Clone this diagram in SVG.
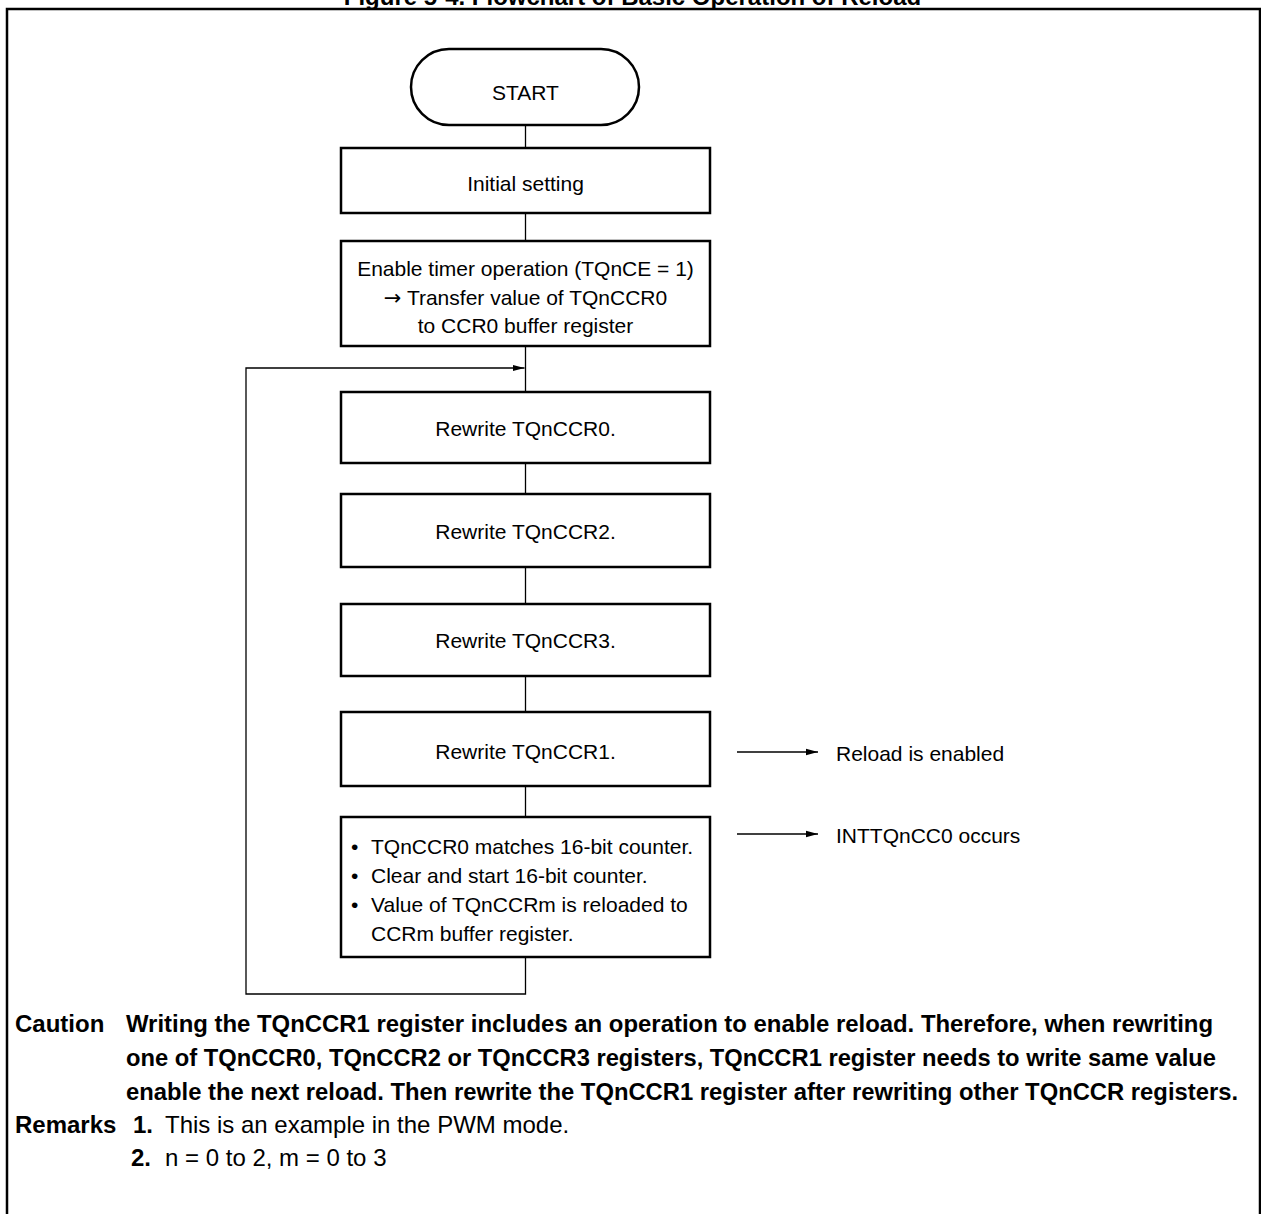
<svg xmlns="http://www.w3.org/2000/svg" width="1261" height="1214" viewBox="0 0 1261 1214">
<style>
  .box { fill: #fff; stroke: #000; stroke-width: 2.5; }
  .ln { fill: none; stroke: #000; stroke-width: 1.3; }
  .t { font-family: "Liberation Sans", Arial, sans-serif; font-size: 21px; fill: #000; }
  .c { text-anchor: middle; }
  .b { font-family: "Liberation Sans", Arial, sans-serif; font-size: 24px; font-weight: bold; fill: #000; }
  .r { font-family: "Liberation Sans", Arial, sans-serif; font-size: 24px; fill: #000; }
  .sym { font-family: "DejaVu Sans", sans-serif; }
</style>
<defs>
  <marker id="ah" markerWidth="12" markerHeight="8" refX="12" refY="4" orient="auto" markerUnits="userSpaceOnUse">
    <path d="M0,0.8 L12,4 L0,7.2 Z" fill="#000"/>
  </marker>
</defs>
<rect width="1261" height="1214" fill="#fff"/>
<text class="b c" x="632.5" y="5">Figure 5-4. Flowchart of Basic Operation of Reload</text>
<rect x="7" y="9" width="1253" height="1230" fill="none" stroke="#000" stroke-width="2.5"/>

<g id="connectors">
  <line class="ln" x1="525.5" y1="125" x2="525.5" y2="148"/>
  <line class="ln" x1="525.5" y1="213" x2="525.5" y2="241"/>
  <line class="ln" x1="525.5" y1="346" x2="525.5" y2="392"/>
  <line class="ln" x1="525.5" y1="463" x2="525.5" y2="494"/>
  <line class="ln" x1="525.5" y1="567" x2="525.5" y2="604"/>
  <line class="ln" x1="525.5" y1="676" x2="525.5" y2="712"/>
  <line class="ln" x1="525.5" y1="786" x2="525.5" y2="817"/>
  <polyline class="ln" points="525.5,957 525.5,994 246,994 246,368 524.5,368" marker-end="url(#ah)"/>
  <line class="ln" x1="737" y1="752" x2="818" y2="752" marker-end="url(#ah)"/>
  <line class="ln" x1="737" y1="834" x2="818" y2="834" marker-end="url(#ah)"/>
</g>

<g id="start">
  <rect class="box" x="411" y="49" width="228" height="76" rx="38" ry="38"/>
  <text class="t c" x="525.5" y="99.5">START</text>
</g>
<g id="initial">
  <rect class="box" x="341" y="148" width="369" height="65"/>
  <text class="t c" x="525.5" y="190.5">Initial setting</text>
</g>
<g id="enable">
  <rect class="box" x="341" y="241" width="369" height="105"/>
  <text class="t c" x="525.5" y="275.5">Enable timer operation (TQnCE = 1)</text>
  <text class="t c" x="525.5" y="304.5"><tspan class="sym">→</tspan> Transfer value of TQnCCR0</text>
  <text class="t c" x="525.5" y="332.5">to CCR0 buffer register</text>
</g>
<g id="rw0">
  <rect class="box" x="341" y="392" width="369" height="71"/>
  <text class="t c" x="525.5" y="435.5">Rewrite TQnCCR0.</text>
</g>
<g id="rw2">
  <rect class="box" x="341" y="494" width="369" height="73"/>
  <text class="t c" x="525.5" y="538.5">Rewrite TQnCCR2.</text>
</g>
<g id="rw3">
  <rect class="box" x="341" y="604" width="369" height="72"/>
  <text class="t c" x="525.5" y="647.5">Rewrite TQnCCR3.</text>
</g>
<g id="rw1">
  <rect class="box" x="341" y="712" width="369" height="74"/>
  <text class="t c" x="525.5" y="758.5">Rewrite TQnCCR1.</text>
</g>
<g id="match">
  <rect class="box" x="341" y="817" width="369" height="140"/>
  <text class="t" x="351" y="853.5">•</text>
  <text class="t" x="371" y="853.5">TQnCCR0 matches 16-bit counter.</text>
  <text class="t" x="351" y="882.5">•</text>
  <text class="t" x="371" y="882.5">Clear and start 16-bit counter.</text>
  <text class="t" x="351" y="911.5">•</text>
  <text class="t" x="371" y="911.5">Value of TQnCCRm is reloaded to</text>
  <text class="t" x="371" y="940.5">CCRm buffer register.</text>
</g>
<g id="reload-label">
  <text class="t" x="836" y="760.5">Reload is enabled</text>
</g>
<g id="int-label">
  <text class="t" x="836" y="842.5">INTTQnCC0 occurs</text>
</g>

<g id="notes">
  <text class="b" x="15" y="1031.5">Caution</text>
  <text class="b" x="126" y="1031.5" textLength="1087" lengthAdjust="spacingAndGlyphs">Writing the TQnCCR1 register includes an operation to enable reload. Therefore, when rewriting</text>
  <text class="b" x="126" y="1065.5" textLength="1090" lengthAdjust="spacingAndGlyphs">one of TQnCCR0, TQnCCR2 or TQnCCR3 registers, TQnCCR1 register needs to write same value</text>
  <text class="b" x="126" y="1099.5" textLength="1112" lengthAdjust="spacingAndGlyphs">enable the next reload. Then rewrite the TQnCCR1 register after rewriting other TQnCCR registers.</text>
  <text class="b" x="15" y="1132.5">Remarks</text>
  <text class="b" x="133" y="1132.5">1.</text>
  <text class="r" x="165" y="1132.5">This is an example in the PWM mode.</text>
  <text class="b" x="131" y="1165.5">2.</text>
  <text class="r" x="165" y="1165.5">n = 0 to 2, m = 0 to 3</text>
</g>
</svg>
